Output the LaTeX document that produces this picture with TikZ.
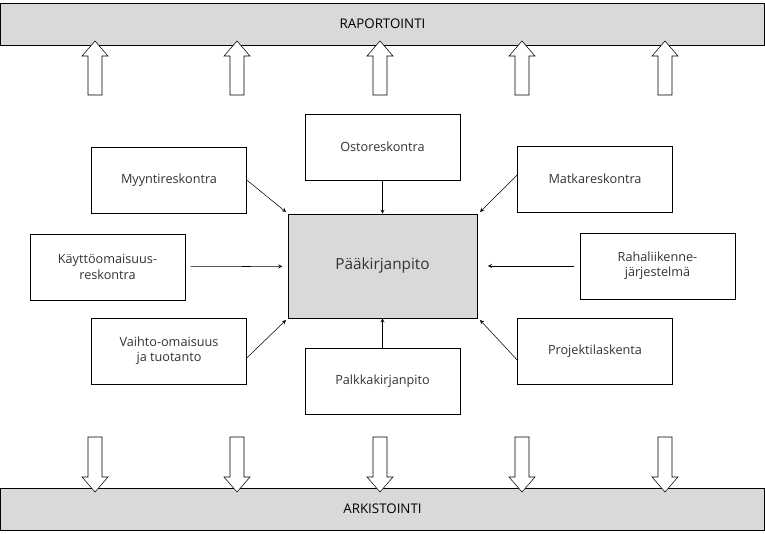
\documentclass[tikz,border=0pt]{standalone}
\usepackage{fontspec}
\setmainfont{Open Sans}
\tikzset{
  box/.style={draw, rectangle, fill=white, minimum width=116.25pt, minimum height=49.5pt, align=center, font=\fontsize{9.5}{11.5}\selectfont, text=black!80},
  bar/.style={draw, rectangle, fill=black!15, minimum width=573pt, minimum height=31.5pt, font=\fontsize{10}{12}\selectfont},
  blockarrow/.style={draw, fill=white},
  feed/.style={->, >=stealth, thin}
}
\begin{document}
\begin{tikzpicture}[x=0.75pt,y=-0.75pt]
	\useasboundingbox (0,0) rectangle (765,533);
	\node	(rap) at (382.5,24) [bar] {RAPORTOINTI};
	\node	(ark) at (382.5,509) [bar] {ARKISTOINTI};
	\node	(main) at (382.5,266) [box, fill=black!15, minimum width=141.75pt, minimum height=78pt, font=\fontsize{11.5}{13}\selectfont] {Pääkirjanpito};
	\node	(osto) at (382.5,147) [box] {Ostoreskontra};
	\node	(myynti) at (169,180) [box] {Myyntireskontra};
	\node	(matka) at (595,179) [box] {Matkareskontra};
	\node	(kaytto) at (107.5,267) [box] {Käyttöomaisuus-\\reskontra};
	\node	(raha) at (657.5,266) [box] {Rahaliikenne-\\järjestelmä};
	\node	(vaihto) at (169,351) [box] {Vaihto-omaisuus\\ja tuotanto};
	\node	(palkka) at (382.5,381) [box] {Palkkakirjanpito};
	\node	(projekti) at (595,351) [box] {Projektilaskenta};

	% hollow block arrows up to the report bar and down to the archive bar
	\foreach \x in {95,237,380,522,665} {
		\draw[blockarrow] (\x-7,95) -- (\x-7,56) -- (\x-13,56) -- (\x,41) -- (\x+13,56) -- (\x+7,56) -- (\x+7,95) -- cycle;
		\draw[blockarrow] (\x-7,437) -- (\x-7,477) -- (\x-13,477) -- (\x,492) -- (\x+13,477) -- (\x+7,477) -- (\x+7,437) -- cycle;
	}

	\draw 
	(myynti.east |- 0,180) edge[feed] (286,212)
	(osto) edge[feed] (main)
	(matka.west |- 0,175) edge[feed] (480,212)
	(kaytto) edge[feed, shorten <=4pt, shorten >=4pt] (main)
	(raha) edge[feed, shorten <=4pt, shorten >=8pt] (main)
	(vaihto.east |- 0,358) edge[feed] (286,320)
	(palkka) edge[feed] (main)
	(projekti.west |- 0,360) edge[feed] (480,320)
	;
\end{tikzpicture}
\end{document}
